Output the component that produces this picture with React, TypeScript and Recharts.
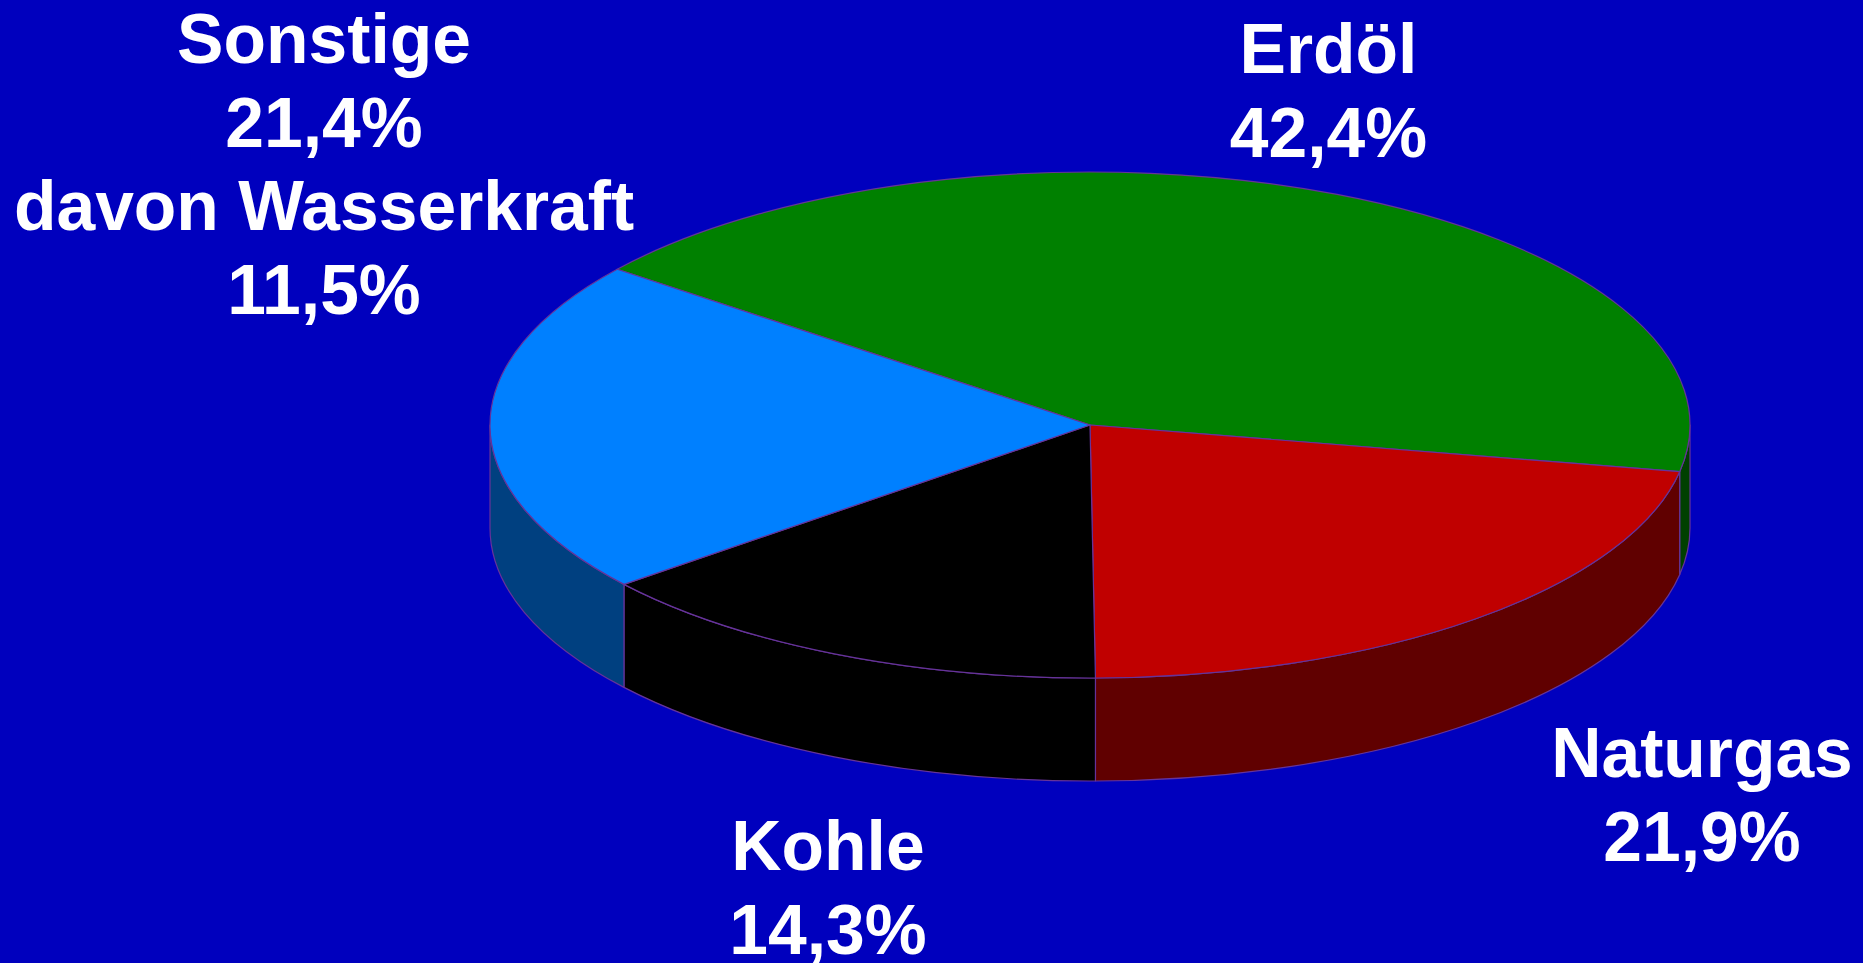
import React from "react";
import { PieChart, Pie } from "recharts";

const names = ["Erdöl", "Naturgas", "Kohle", "Sonstige"];
const shares = [42.4, 21.9, 14.3, 21.4];
const topColors = ["#008000", "#C00000", "#000000", "#0080FF"];
const wallColors = ["#004000", "#600000", "#000000", "#004080"];
const labelLines = [["Erdöl", "42,4%"], ["Naturgas", "21,9%"], ["Kohle", "14,3%"], ["Sonstige", "21,4%", "davon Wasserkraft", "11,5%"]];

const W = 1863, H = 963;
const CX = 1090, CY = 425, RX = 600;
const RATIO = 253 / 600;
const DEPTH = 103;
const STROKE = "#663399";
const FONT = "'Liberation Sans', Arial, sans-serif";
const FS = 69.6, LH = 83.6;
const labelAnchors = [{ x: 1328.5, y: 73 }, { x: 1702, y: 777 }, { x: 828, y: 870 }, { x: 324, y: 63 }];

const rows = names.map((name, i) => ({ name, value: shares[i], top: topColors[i], wall: wallColors[i] }));

const pt = (cx: number, cy: number, rx: number, ry: number, a: number) => {
  const t = (a * Math.PI) / 180;
  return [cx + rx * Math.cos(t), cy - ry * Math.sin(t)];
};

const TopFace = (p: any) => {
  const ry = p.outerRadius * RATIO;
  const s = pt(p.cx, p.cy, p.outerRadius, ry, p.startAngle);
  const e = pt(p.cx, p.cy, p.outerRadius, ry, p.endAngle);
  const large = Math.abs(p.startAngle - p.endAngle) > 180 ? 1 : 0;
  const d = `M${p.cx},${p.cy}L${s[0]},${s[1]}A${p.outerRadius},${ry} 0 ${large} 1 ${e[0]},${e[1]}Z`;
  return <path d={d} fill={p.top} stroke={STROKE} strokeWidth={1.2} strokeLinejoin="round" />;
};

const WallFace = (p: any) => {
  const from = Math.min(p.startAngle, 0);
  const to = Math.max(p.endAngle, -180);
  if (from <= to) return <g />;
  const ry = p.outerRadius * RATIO;
  const a = pt(p.cx, p.cy, p.outerRadius, ry, from);
  const b = pt(p.cx, p.cy, p.outerRadius, ry, to);
  const d = `M${a[0]},${a[1]}A${p.outerRadius},${ry} 0 0 1 ${b[0]},${b[1]}L${b[0]},${b[1] + DEPTH}A${p.outerRadius},${ry} 0 0 0 ${a[0]},${a[1] + DEPTH}Z`;
  return <path d={d} fill={p.wall} stroke={STROKE} strokeWidth={1.2} strokeLinejoin="round" />;
};

const SliceLabel = (p: any) => {
  const at = labelAnchors[p.index];
  return (
    <text textAnchor="middle" fill="#FFFFFF" fontFamily={FONT} fontWeight={700} fontSize={FS}>
      {labelLines[p.index].map((line, j) => (
        <tspan key={j} x={at.x} y={at.y + j * LH}>{line}</tspan>
      ))}
    </text>
  );
};

export default function App() {
  return (
    <div style={{ position: "fixed", left: 0, top: 0, width: W, height: H, background: "#0000BE", overflow: "hidden" }}>
      <PieChart width={W} height={H} margin={{ top: 0, right: 0, bottom: 0, left: 0 }}>
        <Pie data={rows} dataKey="value" nameKey="name" cx={CX} cy={CY} innerRadius={0} outerRadius={RX}
          startAngle={142} endAngle={-218} stroke="none" shape={WallFace} isAnimationActive={false} labelLine={false} label={false} />
        <Pie data={rows} dataKey="value" nameKey="name" cx={CX} cy={CY} innerRadius={0} outerRadius={RX}
          startAngle={142} endAngle={-218} stroke="none" shape={TopFace} isAnimationActive={false} labelLine={false} label={SliceLabel} />
      </PieChart>
    </div>
  );
}
